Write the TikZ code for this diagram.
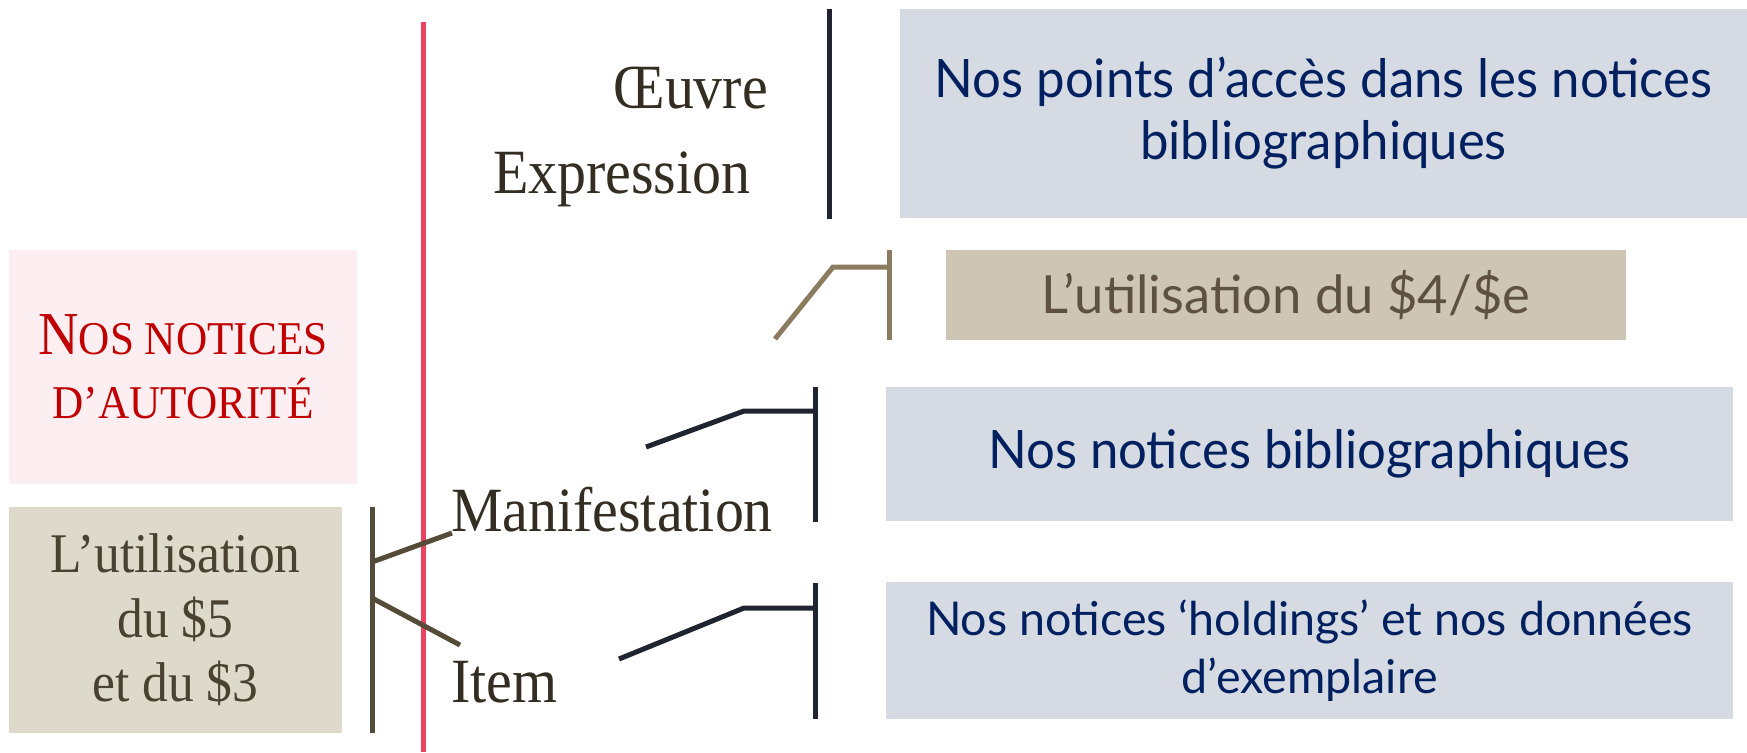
\documentclass[tikz,border=0pt]{standalone}
\usepackage{fontspec}
\setmainfont[FakeStretch=0.92]{Liberation Serif}
\newfontfamily\gill[FakeStretch=0.96]{Lato}
\newfontfamily\gillw{Lato}
\definecolor{pinkbg}{HTML}{FDEEF1}
\definecolor{tanbg}{HTML}{DDDACB}
\definecolor{tanbgb}{HTML}{CFC5B5}
\definecolor{bluebg}{HTML}{D5DAE3}
\definecolor{redline}{HTML}{EE4360}
\definecolor{darkline}{HTML}{1F2430}
\definecolor{tanline}{HTML}{8B7B60}
\definecolor{oliveline}{HTML}{544C38}
\definecolor{navytext}{HTML}{002060}
\definecolor{redtext}{HTML}{C00000}
\definecolor{darktext}{HTML}{332D22}
\definecolor{tantext}{HTML}{4A4231}
\definecolor{tantextb}{HTML}{5E5141}
\tikzset{
  boxnode/.style={rectangle, inner sep=0pt, outer sep=0pt, align=center},
  lvl/.style={inner sep=0pt, outer sep=0pt, text=darktext, font=\fontsize{31.5}{36}\selectfont},
  brk/.style={line width=2.5pt, line cap=butt, line join=miter},
}
\begin{document}
\begin{tikzpicture}[x=0.5pt,y=-0.5pt]
\useasboundingbox (0,0) rectangle (1747,752);
\fill[white] (0,0) rectangle (1747,752);
% left boxes
\node[boxnode, fill=pinkbg, minimum width=174pt, minimum height=117pt, text=redtext, font=\fontsize{23.5}{32}\selectfont]
  (auth) at (183,367) {{\fontsize{30.5}{32}\selectfont N}OS NOTICES\\D’AUTORITÉ};
\node[boxnode, fill=tanbg, minimum width=166.5pt, minimum height=113pt, text=tantext, font=\fontsize{28}{32.2}\selectfont]
  (dol) at (175.5,620) {L’utilisation\\du \$5\\et du \$3};
% right boxes
\node[boxnode, fill=bluebg, minimum width=423.5pt, minimum height=104.5pt, text=navytext, font=\gill\fontsize{26.5}{31}\selectfont]
  (pa) at (1323.5,113.5) {Nos points d’accès dans les notices\\bibliographiques};
\node[boxnode, fill=tanbgb, minimum width=340pt, minimum height=45pt, text=tantextb, font=\gillw\fontsize{26.3}{30}\selectfont]
  (ue) at (1286,295) {L’utilisation du \$4/\$e};
\node[boxnode, fill=bluebg, minimum width=423.5pt, minimum height=67pt, text=navytext, font=\gill\fontsize{26.5}{31}\selectfont]
  (nb) at (1309.5,454) {Nos notices bibliographiques};
\node[boxnode, fill=bluebg, minimum width=423.5pt, minimum height=68.5pt, text=navytext, font=\gillw\fontsize{23.3}{29}\selectfont]
  (nh) at (1309.5,650.5) {Nos notices ‘holdings’ et nos données\\d’exemplaire};
% level labels
\node[lvl, anchor=base east] (oeuvre) at (768,108) {Œuvre};
\node[lvl, anchor=base west] (expr) at (493,193) {Expression};
\node[lvl, anchor=base west] (manif) at (451,531) {Manifestation};
\node[lvl, anchor=base west] (item) at (451,702) {Item};
% red vertical line
\coordinate (rtop) at (423,22);
\coordinate (rbot) at (423,752);
\draw[redline, line width=2.5pt] (rtop) -- (rbot);
% left bracket
\coordinate (lbt) at (372,507);
\coordinate (lbb) at (372,733);
\coordinate (lb1) at (372,562);
\coordinate (lb2) at (372,598);
\draw[brk, oliveline] (lbt) -- (lbb);
\draw[brk, oliveline] (lb1) -- (452,533);
\draw[brk, oliveline] (lb2) -- (460,645);
% top dark bracket
\coordinate (dtt) at (829,9);
\coordinate (dtb) at (829,219);
\draw[brk, darkline] (dtt) -- (dtb);
% tan bracket
\coordinate (tbt) at (889,250);
\coordinate (tbb) at (889,340);
\coordinate (tbk) at (833,267);
\draw[brk, tanline] (tbt) -- (tbb);
\draw[brk, tanline] (775,339) -- (tbk) -- (889,267);
% manifestation bracket
\coordinate (mbt) at (815,387);
\coordinate (mbb) at (815,522);
\coordinate (mbk) at (744,411);
\draw[brk, darkline] (mbt) -- (mbb);
\draw[brk, darkline] (646,447) -- (mbk) -- (815,411);
% item bracket
\coordinate (ibt) at (815,583);
\coordinate (ibb) at (815,719);
\coordinate (ibk) at (744,608);
\draw[brk, darkline] (ibt) -- (ibb);
\draw[brk, darkline] (619,659) -- (ibk) -- (815,608);
\end{tikzpicture}
\end{document}
